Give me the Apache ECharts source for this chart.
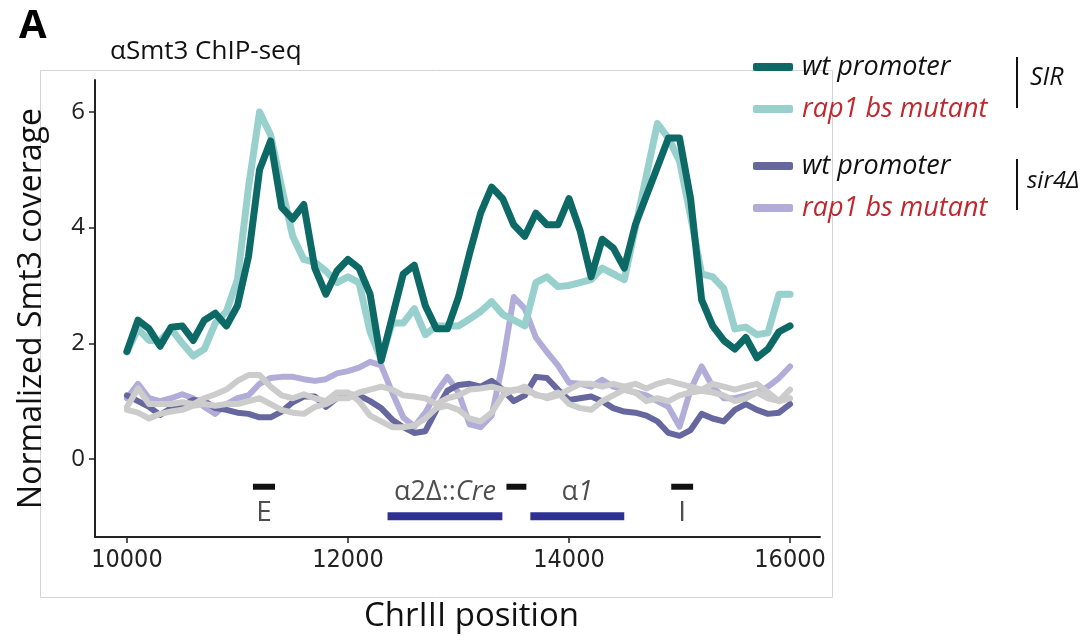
<!DOCTYPE html>
<html>
<head>
<meta charset="utf-8">
<title>aSmt3 ChIP-seq</title>
<script src="https://cdn.jsdelivr.net/npm/echarts@6.0.0/dist/echarts.min.js"></script>
<style>
  html, body { margin: 0; padding: 0; background: #fff; }
  #chart { width: 1092px; height: 641px; }
</style>
</head>
<body>
<div id="chart"></div>
<script>
// bin positions along ChrIII
const positions = [
  10000, 10100, 10200, 10300, 10400, 10500, 10600, 10700, 10800, 10900,
  11000, 11100, 11200, 11300, 11400, 11500, 11600, 11700, 11800, 11900,
  12000, 12100, 12200, 12300, 12400, 12500, 12600, 12700, 12800, 12900,
  13000, 13100, 13200, 13300, 13400, 13500, 13600, 13700, 13800, 13900,
  14000, 14100, 14200, 14300, 14400, 14500, 14600, 14700, 14800, 14900,
  15000, 15100, 15200, 15300, 15400, 15500, 15600, 15700, 15800, 15900,
  16000
];

// SIR, wt promoter
const sirWt = [
  1.86, 2.40, 2.25, 1.95, 2.28, 2.30, 2.05, 2.40, 2.52, 2.30,
  2.65, 3.50, 5.00, 5.50, 4.35, 4.15, 4.40, 3.30, 2.85, 3.25,
  3.45, 3.30, 2.85, 1.70, 2.45, 3.20, 3.35, 2.65, 2.25, 2.25,
  2.80, 3.55, 4.25, 4.70, 4.50, 4.05, 3.85, 4.25, 4.05, 4.05,
  4.50, 3.95, 3.15, 3.80, 3.65, 3.30, 4.05, 4.55, 5.05, 5.55,
  5.55, 4.50, 2.75, 2.30, 2.05, 1.90, 2.10, 1.75, 1.90, 2.20,
  2.30
];
// SIR, rap1 bs mutant
const sirRap1 = [
  1.85, 2.25, 2.05, 2.05, 2.25, 2.00, 1.78, 1.90, 2.35, 2.55,
  3.10, 4.70, 6.00, 5.60, 4.70, 3.85, 3.45, 3.40, 3.25, 3.05,
  3.15, 3.05, 2.20, 1.72, 2.35, 2.35, 2.60, 2.15, 2.30, 2.30,
  2.30, 2.42, 2.55, 2.72, 2.50, 2.40, 2.30, 3.05, 3.15, 2.98,
  3.00, 3.05, 3.10, 3.30, 3.20, 3.10, 4.00, 4.90, 5.80, 5.55,
  5.15, 4.20, 3.20, 3.15, 2.95, 2.25, 2.28, 2.15, 2.18, 2.85,
  2.85
];
// sir4 deletion, wt promoter
const sir4Wt = [
  1.10, 1.00, 0.90, 0.76, 0.88, 0.92, 1.02, 1.00, 0.88, 0.85,
  0.80, 0.78, 0.72, 0.72, 0.82, 0.98, 1.08, 1.08, 0.90, 1.05,
  1.12, 1.10, 1.00, 0.88, 0.68, 0.55, 0.45, 0.48, 0.85, 1.18,
  1.28, 1.30, 1.25, 1.35, 1.20, 1.00, 1.10, 1.42, 1.40, 1.20,
  1.02, 1.05, 1.08, 1.00, 0.88, 0.82, 0.80, 0.75, 0.65, 0.45,
  0.40, 0.50, 0.78, 0.70, 0.65, 0.85, 0.95, 0.85, 0.78, 0.80,
  0.95
];
// sir4 deletion, rap1 bs mutant
const sir4Rap1 = [
  1.05, 1.30, 1.05, 1.00, 1.05, 1.12, 1.05, 0.90, 0.78, 0.95,
  1.05, 1.10, 1.30, 1.40, 1.42, 1.42, 1.38, 1.35, 1.38, 1.48,
  1.52, 1.58, 1.68, 1.62, 1.15, 0.72, 0.56, 0.80, 1.15, 1.42,
  1.15, 0.60, 0.55, 0.75, 1.65, 2.80, 2.60, 2.10, 1.85, 1.62,
  1.32, 1.30, 1.25, 1.37, 1.25, 1.20, 1.15, 1.10, 1.00, 0.90,
  0.56, 1.20, 1.60, 1.25, 1.05, 1.05, 1.10, 1.15, 1.25, 1.40,
  1.60
];
// grey traces (not in legend)
const greyA = [
  0.90, 1.22, 0.95, 0.95, 0.95, 0.98, 0.95, 1.05, 1.12, 1.20,
  1.35, 1.45, 1.45, 1.25, 1.10, 1.05, 1.12, 1.05, 1.00, 1.15,
  1.15, 1.00, 0.75, 0.65, 0.55, 0.55, 0.58, 0.70, 0.88, 0.92,
  0.85, 0.70, 0.65, 0.80, 1.10, 1.20, 1.18, 1.12, 1.05, 1.10,
  1.20, 1.30, 1.30, 1.25, 1.30, 1.25, 1.30, 1.22, 1.30, 1.35,
  1.30, 1.25, 1.20, 1.30, 1.25, 1.20, 1.25, 1.30, 1.15, 1.00,
  1.20
];
const greyB = [
  0.85, 0.80, 0.70, 0.78, 0.82, 0.85, 0.92, 0.95, 0.92, 0.95,
  0.95, 1.00, 1.05, 0.95, 0.85, 0.80, 0.78, 0.90, 0.95, 1.05,
  1.05, 1.15, 1.20, 1.25, 1.20, 1.10, 1.08, 1.05, 0.95, 1.05,
  1.10, 1.20, 1.22, 1.25, 1.20, 1.18, 1.25, 1.10, 1.08, 1.15,
  0.95, 0.88, 0.85, 1.00, 1.10, 1.20, 1.15, 1.00, 1.05, 1.00,
  1.10, 1.15, 1.18, 1.15, 1.10, 1.00, 1.05, 1.15, 1.05, 1.00,
  1.05
];

// genomic features under the tracks
const silencerNames = ['E', '', 'I'];
const silencerStart = [11140, 13434, 14925];
const silencerEnd = [11340, 13614, 15123];
const geneNames = ['α2Δ::Cre', 'α1'];
const geneStart = [12358, 13650];
const geneEnd = [13397, 14500];

const xTicks = [10000, 12000, 14000, 16000];
const yTicks = [0, 2, 4, 6];

const FONT = '"Open Sans", Lato, sans-serif';
const RED = '#c1272d';

function pairs(vals) {
  return positions.map((p, i) => [p, vals[i]]);
}

function track(name, vals, color, width) {
  return {
    name: name,
    type: 'line',
    data: pairs(vals),
    showSymbol: false,
    symbol: 'none',
    lineStyle: { color: color, width: width, cap: 'round', join: 'round' },
    itemStyle: { color: color },
    emphasis: { disabled: true },
    animation: false
  };
}

function bar(s, e, y, color, w) {
  return {
    type: 'line',
    data: [[s, y], [e, y]],
    symbol: 'none',
    lineStyle: { color: color, width: w, cap: 'butt' },
    emphasis: { disabled: true },
    animation: false,
    silent: true
  };
}

const series = [
  track('sir4 rap1', sir4Rap1, '#b1acd8', 6),
  track('sir4 wt', sir4Wt, '#67679f', 6),
  track('grey B', greyB, '#cccccc', 6),
  track('grey A', greyA, '#cccccc', 6),
  track('SIR rap1', sirRap1, '#97d0cc', 7),
  track('SIR wt', sirWt, '#0d6966', 7)
];

silencerStart.forEach((s, i) => series.push(bar(s, silencerEnd[i], -0.48, '#111111', 6)));
geneStart.forEach((s, i) => series.push(bar(s, geneEnd[i], -0.99, '#2e3192', 8)));

// feature labels
series.push({
  type: 'scatter',
  symbolSize: 1,
  itemStyle: { color: 'transparent' },
  silent: true,
  animation: false,
  data: silencerNames.map((n, i) => ({
    value: [(silencerStart[i] + silencerEnd[i]) / 2, -0.93],
    label: { show: n !== '', formatter: n, fontSize: 28 }
  })).concat(geneNames.map((n, i) => ({
    value: [(geneStart[i] + geneEnd[i]) / 2, -0.57],
    label: {
      show: true,
      formatter: n === 'α1' ? 'α{i|1}' : 'α2Δ::{i|Cre}'
    }
  }))),
  label: {
    position: 'inside',
    color: '#222',
    fontFamily: FONT,
    fontSize: 27,
    rich: { i: { fontStyle: 'italic', fontFamily: FONT, fontSize: 27, color: '#222' } }
  }
});

const legendText = {
  'SIR wt': 'wt promoter',
  'SIR rap1': 'rap1 bs mutant',
  'sir4 wt': 'wt promoter',
  'sir4 rap1': 'rap1 bs mutant'
};

function legendBlock(top, names) {
  return {
    orient: 'vertical',
    left: 748,
    top: top,
    itemWidth: 40,
    itemHeight: 8,
    itemGap: 12,
    icon: 'roundRect',
    selectedMode: false,
    formatter: n => legendText[n],
    textStyle: { fontFamily: FONT, fontSize: 27, fontStyle: 'italic', lineHeight: 30, padding: [0, 0, 0, 4] },
    data: names.map(n => ({
      name: n,
      textStyle: { color: n.indexOf('rap1') >= 0 ? RED : '#111' }
    }))
  };
}

const chart = echarts.init(document.getElementById('chart'), null, { renderer: 'canvas' });

chart.setOption({
  backgroundColor: '#ffffff',
  animation: false,
  grid: { left: 95, right: 272, top: 80, bottom: 104, containLabel: false },
  legend: [
    legendBlock(47, ['SIR wt', 'SIR rap1']),
    legendBlock(146, ['sir4 wt', 'sir4 rap1'])
  ],
  xAxis: {
    type: 'value',
    min: 9711,
    max: 16271,
    name: 'ChrIII position',
    nameLocation: 'middle',
    nameGap: 63,
    nameTextStyle: { fontFamily: FONT, fontSize: 33, color: '#111', padding: [0, 0, 0, 28] },
    axisLine: { onZero: false, lineStyle: { color: '#222', width: 2 } },
    axisTick: { show: true, customValues: xTicks, length: 6, lineStyle: { color: '#222', width: 1.5 } },
    axisLabel: {
      customValues: xTicks,
      formatter: v => String(v),
      margin: 11,
      fontFamily: '"DejaVu Sans Condensed", "Liberation Sans Narrow", sans-serif',
      fontSize: 25,
      color: '#222'
    },
    splitLine: { show: false }
  },
  yAxis: {
    type: 'value',
    min: -1.349,
    max: 6.553,
    name: 'Normalized Smt3 coverage',
    nameLocation: 'middle',
    nameRotate: 90,
    nameGap: 47,
    nameTextStyle: { fontFamily: FONT, fontSize: 32, color: '#111' },
    axisLine: { show: true, lineStyle: { color: '#222', width: 2 } },
    axisTick: { show: true, customValues: yTicks, length: 6, lineStyle: { color: '#222', width: 1.5 } },
    axisLabel: { customValues: yTicks, margin: 10, fontFamily: FONT, fontSize: 24, color: '#222' },
    splitLine: { show: false }
  },
  graphic: [
    {
      type: 'rect', z: -10, silent: true,
      shape: { x: 40.5, y: 70.5, width: 792, height: 527 },
      style: { fill: 'none', stroke: '#d4d4d4', lineWidth: 1 }
    },
    {
      type: 'text', left: 19, top: 7,
      style: { text: 'A', font: 'bold 40px "Open Sans", Lato, sans-serif', fill: '#000' }
    },
    {
      type: 'text', left: 110, top: 39,
      style: { text: 'αSmt3 ChIP-seq', font: '26px "Open Sans", Lato, sans-serif', fill: '#111' }
    },
    {
      type: 'line', shape: { x1: 1017, y1: 57, x2: 1017, y2: 108 },
      style: { stroke: '#111', lineWidth: 2 }
    },
    {
      type: 'text', left: 1030, top: 65,
      style: { text: 'SIR', font: 'italic 25px "Open Sans", Lato, sans-serif', fill: '#111' }
    },
    {
      type: 'line', shape: { x1: 1017, y1: 159, x2: 1017, y2: 210 },
      style: { stroke: '#111', lineWidth: 2 }
    },
    {
      type: 'text', left: 1027, top: 169,
      style: { text: 'sir4Δ', font: 'italic 24px "Open Sans", Lato, sans-serif', fill: '#111' }
    }
  ],
  series: series
});
</script>
</body>
</html>
